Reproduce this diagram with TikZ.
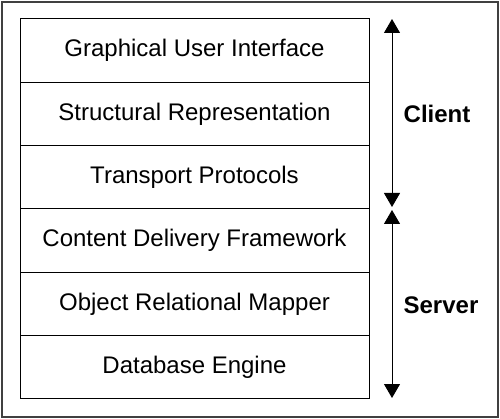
\documentclass[tikz,border=0pt]{standalone}
\usepackage{fontspec}
\setmainfont{Liberation Sans}
\usetikzlibrary{positioning,arrows.meta}
\begin{document}
\begin{tikzpicture}[x=1pt,y=1pt,every node/.style={draw,line width=1pt,outer sep=0pt,minimum width=349pt,minimum height=63.3pt,inner sep=0pt,font=\fontsize{24}{28}\selectfont}]

  \useasboundingbox (0,0) rectangle (500,-419);
  \draw[line width=1.5pt,black!75] (2,-2) rectangle (498,-417);

  % Specification of nodes (position, etc.)
  \node (gui) [anchor=north west] at (20,-19) {Graphical User Interface};
  \node (srep) [below=0pt of gui] {Structural Representation};
  \node (tproto) [below=0pt of srep] {Transport Protocols};
  \node (cdf) [below=0pt of tproto] {Content Delivery Framework};
  \node (orm) [below=0pt of cdf] {Object Relational Mapper};
  \node (dbe) [below=0pt of orm] {Database Engine};

  \coordinate (c0) at (392,-19);
  \coordinate (c1) at (392,-207);
  \coordinate (s0) at (392,-210);
  \coordinate (s1) at (392,-398);

  \begin{scope}[{Triangle[width=16pt,length=14pt]}-{Triangle[width=16pt,length=14pt]},line width=1pt]
    \tikzstyle{every node}=[draw=none,font=\fontsize{24}{28}\selectfont\bfseries]
    \draw (c0) to (c1);
    \draw (s0) to (s1);
    \node (client) at (437,-114) {Client};
    \node (server) at (441,-305) {Server};
  \end{scope}

\end{tikzpicture}
\end{document}
